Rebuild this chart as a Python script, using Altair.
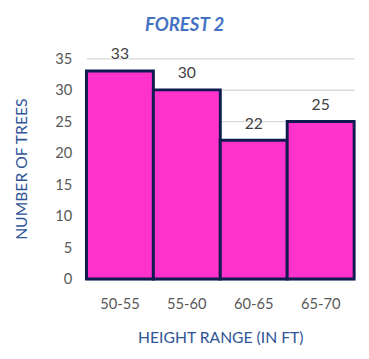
import altair as alt
import pandas as pd

categories = ["50-55", "55-60", "60-65", "65-70"]
counts = [33, 30, 22, 25]
y_ticks = [0, 5, 10, 15, 20, 25, 30, 35]

df = pd.DataFrame({"range": categories, "count": counts})

FONT = "Lato"

base = alt.Chart(df).encode(
    x=alt.X("range:N", sort=categories,
            scale=alt.Scale(paddingInner=0, paddingOuter=0),
            axis=alt.Axis(title="HEIGHT RANGE (IN FT)", labelAngle=0,
                          labelFont=FONT, labelFontSize=15, labelColor="#595959",
                          labelPadding=18, titleFont=FONT, titleFontSize=16,
                          titleFontWeight="normal", titleColor="#2f5597",
                          titlePadding=19, ticks=False, domainColor="#c9d3e8",
                          domainWidth=2)),
    y=alt.Y("count:Q", scale=alt.Scale(domain=[0, 35], nice=False, zero=True),
            axis=alt.Axis(title="NUMBER OF TREES", values=y_ticks,
                          labelOverlap=False,
                          labelFont=FONT, labelFontSize=15, labelColor="#595959",
                          labelPadding=15, titleFont=FONT, titleFontSize=16,
                          titleFontWeight="normal", titleColor="#2f5597",
                          titlePadding=26, ticks=False, domain=False,
                          gridColor="#d9d9d9", gridWidth=1.5)),
)

bars = base.mark_bar(color="#ff33cc", stroke="#0f1a4f", strokeWidth=3)

labels = base.mark_text(dy=-17, font=FONT, fontSize=16, color="#404040").encode(
    text="count:Q"
)

chart = (bars + labels).properties(
    width=273, height=225,
    padding={"left": 5, "top": 4, "right": 5, "bottom": 0},
    title=alt.TitleParams("FOREST 2", font=FONT, fontSize=19, fontWeight="bold",
                          fontStyle="italic", color="#4472c4", frame="bounds",
                          anchor="middle", offset=12),
).configure_view(stroke=None)

chart.save("out.html", embed_options={"renderer": "svg", "actions": False})
